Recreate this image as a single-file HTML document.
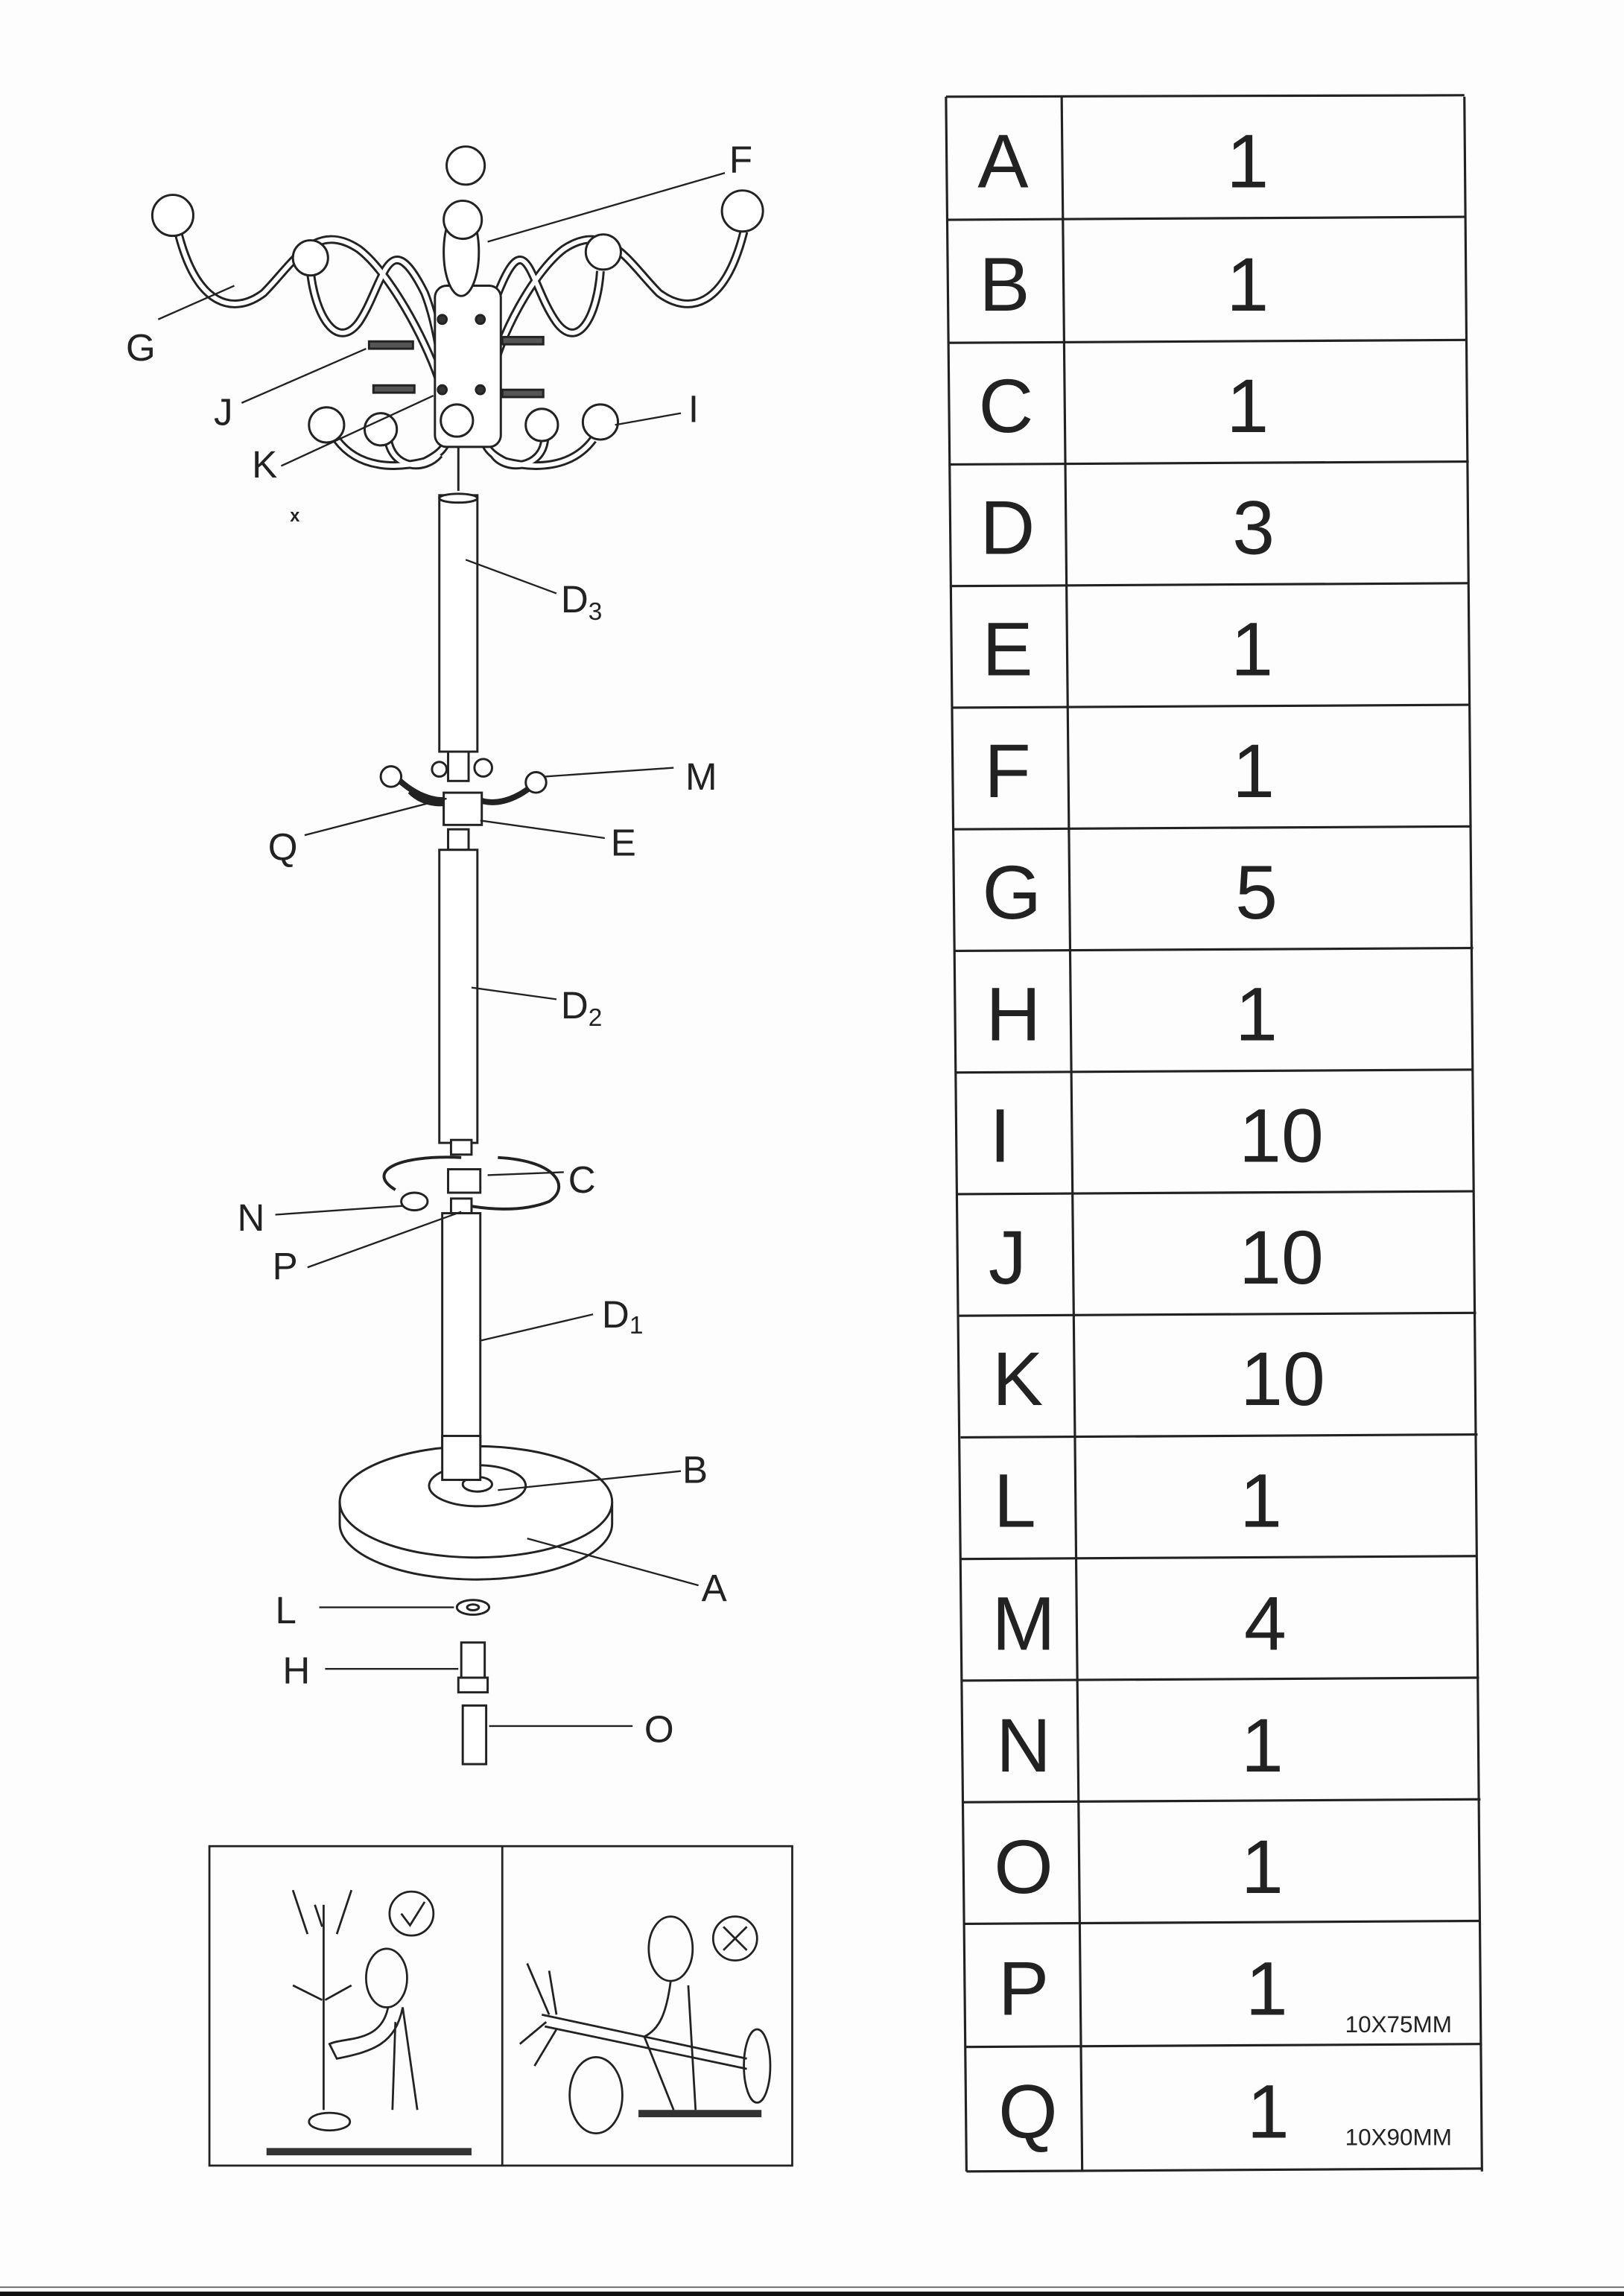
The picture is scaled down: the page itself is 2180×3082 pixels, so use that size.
<!DOCTYPE html>
<html><head><meta charset="utf-8"><style>
html,body{margin:0;padding:0;background:#fff;}
svg{display:block;}
text{font-family:"Liberation Sans",sans-serif;fill:#222;}
</style></head><body>
<svg width="2180" height="3082" viewBox="0 0 1109 1567" preserveAspectRatio="none" xmlns="http://www.w3.org/2000/svg">
<rect width="1109" height="1567" fill="#fdfdfd"/>
<!-- TABLE -->
<g stroke="#222" stroke-width="1.6" fill="none">
<line x1="646" y1="66" x2="660" y2="1482"/>
<line x1="725" y1="66" x2="739" y2="1482"/>
<line x1="1000" y1="66" x2="1012" y2="1482"/>
<line x1="646" y1="66" x2="1000" y2="65"/>
<line x1="647" y1="150" x2="1001" y2="148"/>
<line x1="648" y1="234" x2="1002" y2="232"/>
<line x1="649" y1="317" x2="1003" y2="315"/>
<line x1="650" y1="400" x2="1003" y2="398"/>
<line x1="650" y1="483" x2="1004" y2="481"/>
<line x1="651" y1="566" x2="1005" y2="564"/>
<line x1="652" y1="649" x2="1006" y2="647"/>
<line x1="653" y1="732" x2="1006" y2="730"/>
<line x1="654" y1="815" x2="1007" y2="813"/>
<line x1="655" y1="898" x2="1008" y2="896"/>
<line x1="656" y1="981" x2="1009" y2="979"/>
<line x1="656" y1="1064" x2="1009" y2="1062"/>
<line x1="657" y1="1147" x2="1010" y2="1145"/>
<line x1="658" y1="1230" x2="1011" y2="1228"/>
<line x1="659" y1="1313" x2="1011" y2="1311"/>
<line x1="659" y1="1397" x2="1012" y2="1395"/>
<line x1="660" y1="1482" x2="1012" y2="1480"/>
</g>
<g font-size="52" text-anchor="middle">
<text x="685" y="128">A</text><text x="852" y="128">1</text>
<text x="686" y="212">B</text><text x="852" y="212">1</text>
<text x="687" y="295">C</text><text x="852" y="295">1</text>
<text x="688" y="378">D</text><text x="856" y="378">3</text>
<text x="688" y="461">E</text><text x="855" y="461">1</text>
<text x="688" y="544">F</text><text x="856" y="544">1</text>
<text x="691" y="627">G</text><text x="858" y="627">5</text>
<text x="692" y="710">H</text><text x="858" y="710">1</text>
<text x="683" y="793">I</text><text x="875" y="793">10</text>
<text x="688" y="876">J</text><text x="875" y="876">10</text>
<text x="695" y="959">K</text><text x="876" y="959">10</text>
<text x="693" y="1042">L</text><text x="861" y="1042">1</text>
<text x="699" y="1126">M</text><text x="864" y="1126">4</text>
<text x="699" y="1209">N</text><text x="862" y="1209">1</text>
<text x="699" y="1292">O</text><text x="862" y="1292">1</text>
<text x="699" y="1375">P</text><text x="865" y="1375">1</text>
<text x="702" y="1459">Q</text><text x="866" y="1459">1</text>
</g>
<text x="955" y="1387" font-size="16" text-anchor="middle">10X75MM</text>
<text x="955" y="1464" font-size="16" text-anchor="middle">10X90MM</text>

<!-- DIAGRAM -->
<g stroke="#222" stroke-width="1.5" fill="#fff">
<!-- hooks -->
<g fill="none" stroke-width="6"><path d="M122 160 C135 210 160 215 180 200 C200 180 215 150 245 170 C265 185 290 230 300 260" />
<path d="M212 185 C215 215 230 240 245 220 C262 195 265 150 290 200 C298 220 305 260 306 300"/>
<path d="M508 158 C495 210 470 215 450 200 C430 180 415 150 385 170 C365 185 340 230 335 260"/>
<path d="M410 185 C408 215 395 240 380 220 C362 195 360 150 340 200 C332 220 328 260 328 300"/>
<path d="M230 300 C245 320 270 320 290 315 C300 310 306 305 306 295"/>
<path d="M265 300 C268 320 290 322 300 310"/>
<path d="M405 300 C390 320 365 320 345 315 C335 310 330 305 330 295"/>
<path d="M372 300 C370 320 345 322 337 310"/>
</g>
<g fill="none" stroke="#fff" stroke-width="3"><path d="M122 160 C135 210 160 215 180 200 C200 180 215 150 245 170 C265 185 290 230 300 260" />
<path d="M212 185 C215 215 230 240 245 220 C262 195 265 150 290 200 C298 220 305 260 306 300"/>
<path d="M508 158 C495 210 470 215 450 200 C430 180 415 150 385 170 C365 185 340 230 335 260"/>
<path d="M410 185 C408 215 395 240 380 220 C362 195 360 150 340 200 C332 220 328 260 328 300"/>
<path d="M230 300 C245 320 270 320 290 315 C300 310 306 305 306 295"/>
<path d="M265 300 C268 320 290 322 300 310"/>
<path d="M405 300 C390 320 365 320 345 315 C335 310 330 305 330 295"/>
<path d="M372 300 C370 320 345 322 337 310"/></g>
<rect x="297" y="195" width="45" height="110" rx="8"/>
<ellipse cx="315" cy="172" rx="12" ry="30"/>
<circle cx="318" cy="113" r="13"/><circle cx="316" cy="150" r="13"/>
<circle cx="118" cy="147" r="14"/><circle cx="212" cy="176" r="12"/>
<circle cx="507" cy="144" r="14"/><circle cx="412" cy="172" r="12"/>
<circle cx="223" cy="290" r="12"/><circle cx="260" cy="293" r="11"/><circle cx="312" cy="287" r="11"/><circle cx="370" cy="290" r="11"/><circle cx="410" cy="288" r="12"/>
<circle cx="302" cy="218" r="3" fill="#333"/><circle cx="328" cy="218" r="3" fill="#333"/><circle cx="302" cy="266" r="3" fill="#333"/><circle cx="328" cy="266" r="3" fill="#333"/>
<rect x="252" y="233" width="30" height="5" fill="#555"/><rect x="255" y="263" width="28" height="5" fill="#555"/>
<rect x="343" y="230" width="28" height="5" fill="#555"/><rect x="343" y="266" width="28" height="5" fill="#555"/>
<line x1="313" y1="305" x2="313" y2="335"/>
<!-- D3 -->
<rect x="300" y="338" width="26" height="175"/><ellipse cx="313" cy="340" rx="13" ry="3"/>
<!-- M hooks -->
<g fill="none" stroke-width="4"><path d="M270 530 C285 545 300 548 310 545"/><path d="M365 535 C350 548 335 550 325 545"/><path d="M280 540 C290 550 305 550 313 545"/></g>
<circle cx="267" cy="530" r="7"/><circle cx="366" cy="534" r="7"/><circle cx="330" cy="524" r="6"/><circle cx="300" cy="525" r="5"/>
<rect x="306" y="513" width="14" height="20"/>
<rect x="303" y="541" width="26" height="22"/>
<rect x="306" y="566" width="14" height="14"/>
<!-- D2 -->
<rect x="300" y="580" width="26" height="200"/>
<rect x="308" y="778" width="14" height="10"/>
<!-- C ring -->
<path d="M315 790 C270 788 250 800 270 812 M340 790 C380 792 390 810 375 820 C355 828 330 825 315 822" fill="none" stroke-width="2"/>
<ellipse cx="283" cy="820" rx="9" ry="6"/>
<rect x="306" y="798" width="22" height="16"/>
<rect x="308" y="818" width="14" height="10"/>
<!-- D1 -->
<rect x="302" y="828" width="26" height="160"/>
<!-- base -->
<path d="M232 1025 L232 1040 A93 38 0 0 0 418 1040 L418 1025"/>
<ellipse cx="325" cy="1025" rx="93" ry="38"/>
<ellipse cx="326" cy="1014" rx="33" ry="14"/>
<ellipse cx="326" cy="1013" rx="10" ry="5"/>
<rect x="302" y="980" width="26" height="30"/>
<!-- L H O -->
<ellipse cx="323" cy="1097" rx="11" ry="5"/><ellipse cx="323" cy="1097" rx="4" ry="2"/>
<rect x="315" y="1121" width="16" height="26"/><rect x="313" y="1145" width="20" height="10"/>
<rect x="316" y="1164" width="16" height="40"/>
</g>
<!-- leader lines -->
<g stroke="#222" stroke-width="1.2">
<line x1="333" y1="165" x2="495" y2="118"/>
<line x1="108" y1="218" x2="160" y2="195"/>
<line x1="165" y1="275" x2="250" y2="238"/>
<line x1="192" y1="318" x2="296" y2="270"/>
<line x1="420" y1="290" x2="465" y2="282"/>
<line x1="318" y1="382" x2="380" y2="405"/>
<line x1="372" y1="530" x2="460" y2="524"/>
<line x1="208" y1="570" x2="305" y2="545"/>
<line x1="328" y1="560" x2="413" y2="572"/>
<line x1="322" y1="674" x2="380" y2="682"/>
<line x1="333" y1="802" x2="385" y2="800"/>
<line x1="188" y1="829" x2="275" y2="823"/>
<line x1="210" y1="865" x2="315" y2="827"/>
<line x1="328" y1="915" x2="405" y2="897"/>
<line x1="340" y1="1017" x2="465" y2="1004"/>
<line x1="360" y1="1050" x2="477" y2="1082"/>
<line x1="218" y1="1097" x2="310" y2="1097"/>
<line x1="222" y1="1139" x2="313" y2="1139"/>
<line x1="334" y1="1178" x2="432" y2="1178"/>
</g>
<g font-size="26">
<text x="498" y="118">F</text><text x="86" y="246">G</text><text x="146" y="290">J</text>
<text x="172" y="326">K</text><text x="470" y="288">I</text><text x="383" y="418">D<tspan font-size="17" dy="5">3</tspan></text>
<text x="468" y="539">M</text><text x="183" y="587">Q</text><text x="417" y="584">E</text>
<text x="383" y="695">D<tspan font-size="17" dy="5">2</tspan></text>
<text x="388" y="814">C</text><text x="162" y="840">N</text><text x="186" y="873">P</text>
<text x="411" y="906">D<tspan font-size="17" dy="4">1</tspan></text>
<text x="466" y="1012">B</text><text x="479" y="1093">A</text>
<text x="188" y="1108">L</text><text x="193" y="1149">H</text><text x="440" y="1189">O</text>
</g>
<text x="198" y="356" font-size="12" font-weight="bold">x</text>
<!-- bottom box -->
<g stroke="#222" stroke-width="1.4" fill="none">
<rect x="143" y="1260" width="398" height="218"/>
<line x1="343" y1="1260" x2="343" y2="1478"/>
<circle cx="281" cy="1306" r="15"/><path d="M274 1306 l6 8 l10 -16"/>
<circle cx="502" cy="1323" r="15"/><path d="M494 1315 l16 16 M510 1315 l-16 16"/>
<ellipse cx="264" cy="1350" rx="14" ry="20"/>
<line x1="221" y1="1300" x2="221" y2="1440"/>
<path d="M265 1370 C260 1395 235 1390 225 1395 L230 1405 C255 1400 270 1395 275 1370 L285 1440 M270 1380 L268 1440"/>
<ellipse cx="225" cy="1448" rx="14" ry="6"/>
<path d="M200 1290 l10 30 M240 1290 l-10 30 M215 1300 l5 15 M200 1355 l20 10 M240 1355 l-18 10"/>
<ellipse cx="458" cy="1330" rx="15" ry="22"/>
<path d="M458 1352 C455 1375 450 1385 440 1390 L460 1440 M470 1355 L475 1440"/>
<line x1="370" y1="1375" x2="510" y2="1405"/><line x1="372" y1="1383" x2="510" y2="1412"/>
<ellipse cx="517" cy="1410" rx="9" ry="25"/>
<ellipse cx="407" cy="1430" rx="18" ry="26"/>
<path d="M360 1340 l15 35 M375 1345 l5 30 M355 1395 l18 -15 M365 1410 l15 -25"/>
</g>
<rect x="182" y="1466" width="140" height="5" fill="#333"/>
<rect x="436" y="1440" width="84" height="5" fill="#333"/>
<!-- bottom edge -->
<line x1="0" y1="1561" x2="1109" y2="1561" stroke="#666" stroke-width="1"/>
<rect x="0" y="1564" width="1109" height="3" fill="#111"/>
</svg>
</body></html>
